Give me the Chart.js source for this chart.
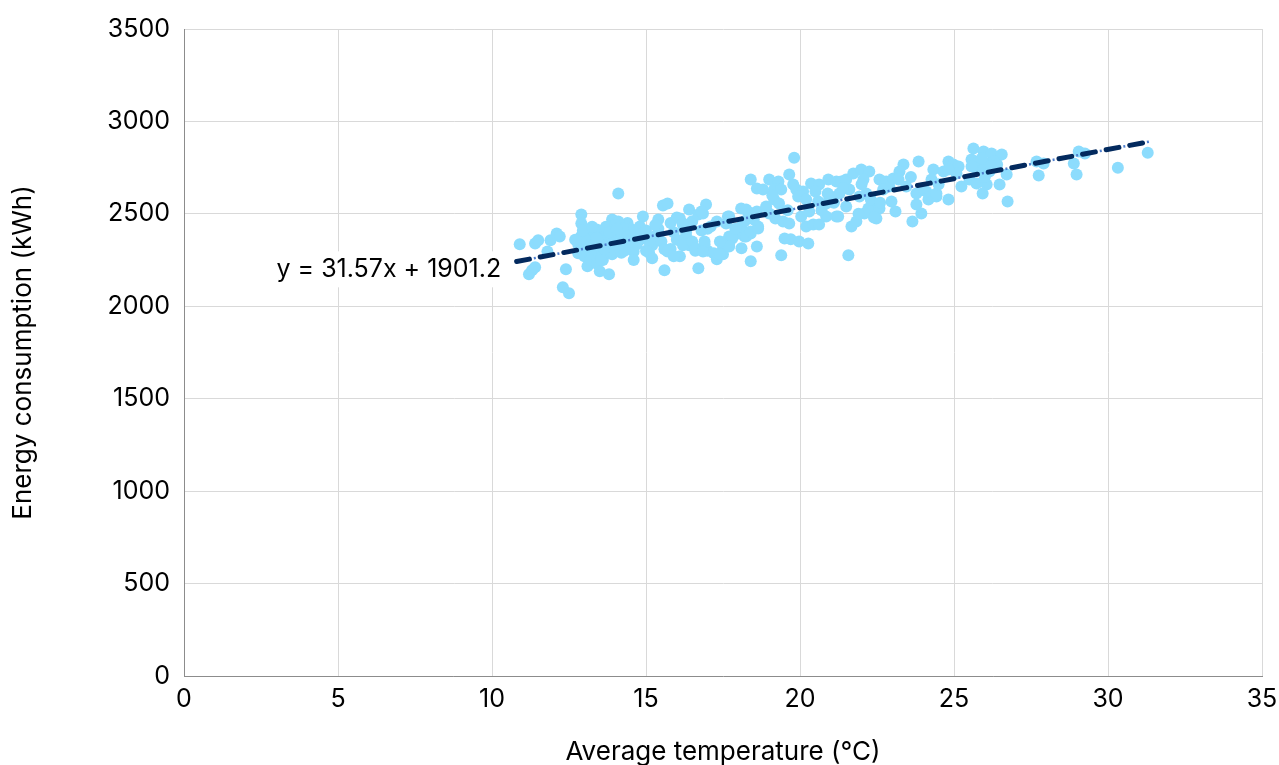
<!DOCTYPE html>
<html>
<head>
<meta charset="utf-8">
<script src="https://cdn.jsdelivr.net/npm/chart.js@4.4.1/dist/chart.umd.min.js"></script>
<style>
  html, body { margin: 0; padding: 0; background: #ffffff; }
  #wrap { width: 1279px; height: 765px; position: relative; }
</style>
</head>
<body>
<div id="wrap"><canvas id="c" width="1279" height="765"></canvas></div>
<script>
// Average temperature (°C) for each day
const temperature = [
  10.9, 11.2, 11.3, 11.4, 11.4, 11.5, 11.9, 11.8, 12.1, 12.2, 12.4, 12.3, 12.5,
  12.9, 12.9, 12.8, 12.8, 13.0, 13.1, 13.2, 13.4, 13.3, 13.5, 13.8, 13.9, 14.0, 14.1, 13.7, 13.9, 14.1,
  13.0, 13.1, 13.2, 13.3, 13.4, 13.5, 13.6, 13.6, 13.7, 13.8, 13.9, 14.0, 14.2, 14.3, 14.4, 14.5, 14.6, 14.7, 14.8,
  13.2, 13.4, 12.9, 13.0, 13.5, 13.7, 14.2, 14.5, 14.9, 14.8,
  14.6, 14.7, 14.1, 14.25, 14.4, 13.1, 13.6, 14.0, 14.3, 12.7, 13.3, 14.6,
  13.8, 14.1, 13.4, 12.95, 13.55, 14.45, 13.25, 14.85, 13.65, 14.05,
  15.2, 15.3, 15.1, 15.4, 15.5, 15.2, 15.55, 15.7, 15.6, 15.8, 15.9, 16.0, 16.1, 16.2, 16.3, 16.4, 16.4, 16.5, 16.6, 16.7, 16.7, 16.85, 16.95, 16.8, 16.9, 17.0,
  15.0, 15.1, 15.4, 15.8, 16.0, 16.2, 16.3, 16.1, 16.2, 15.6, 15.7, 16.5, 16.6, 16.9, 16.85, 15.0, 15.3, 15.9,
  17.6, 17.7, 17.3, 17.5, 17.2, 17.1, 17.3, 16.8,
  17.66, 18.09, 18.3, 18.64, 18.4, 18.2, 18.0, 17.8, 17.7, 17.5, 17.4, 18.4, 18.4, 18.6, 18.8, 19.0, 19.3, 19.65,
  19.16, 19.39, 19.16, 19.32, 17.6, 17.8, 17.7, 18.1, 18.25, 18.4, 18.6, 18.64, 18.1, 17.7, 18.25, 18.6,
  19.2, 19.45, 19.65, 19.0, 19.7, 19.97, 20.27, 19.39, 19.5, 18.9, 18.5, 17.9, 19.1, 18.2, 17.4, 17.0, 19.6,
  19.81, 19.78, 19.88, 20.1, 19.94, 20.36, 20.62, 20.92, 21.18, 20.2, 20.59, 20.85, 21.18, 20.2, 20.43, 20.62, 20.85,
  21.34, 21.5, 21.6, 21.28, 21.73, 21.99, 22.25, 22.06, 21.24, 21.57, 21.67, 21.83,
  22.22, 22.38, 22.58, 22.48, 22.09, 22.58, 22.8, 22.9, 23.03, 22.7,
  20.04, 20.3, 21.5, 21.93, 22.15, 22.3, 21.0, 20.5, 20.7, 21.1, 21.4, 22.0, 22.6, 20.9, 21.9, 22.4,
  23.85, 23.36, 23.23, 23.2, 23.65, 23.94, 23.78, 24.17, 24.43, 24.33, 24.66, 24.82, 23.78, 24.1, 24.43, 24.82,
  24.98, 25.15, 25.08, 24.82, 25.24, 25.5, 25.73, 23.45, 22.97, 23.1, 24.27, 24.5, 23.6, 24.0,
  25.63, 25.96, 26.22, 26.55, 25.57, 25.8, 26.06, 25.73, 25.96, 26.3, 26.4, 26.06, 25.93, 26.48, 26.74, 26.71,
  25.57, 26.15, 25.9, 26.2, 26.0,
  27.68, 27.91, 27.75, 29.05, 29.25, 28.89, 28.98, 30.32, 31.29
];

// Energy consumption (kWh) for each day, same order
const energy = [
  2335, 2173, 2195, 2211, 2340, 2357, 2357, 2297, 2394, 2378, 2200, 2103, 2071,
  2497, 2448, 2335, 2287, 2270, 2216, 2416, 2416, 2367, 2190, 2173, 2470, 2421, 2367, 2314, 2281, 2610,
  2340, 2300, 2360, 2330, 2280, 2400, 2350, 2250, 2390, 2330, 2360, 2300, 2400, 2340, 2450, 2380, 2320, 2400, 2360,
  2250, 2230, 2380, 2310, 2320, 2430, 2290, 2420, 2486, 2432,
  2297, 2335, 2459, 2421, 2378, 2390, 2280, 2440, 2300, 2360, 2410, 2250,
  2400, 2330, 2370, 2410, 2250, 2350, 2430, 2390, 2310, 2420,
  2330, 2380, 2290, 2420, 2350, 2260, 2545, 2556, 2195, 2310, 2400, 2360, 2270, 2440, 2380, 2524, 2330, 2460, 2300, 2497, 2206, 2502, 2551, 2410, 2350, 2300,
  2410, 2350, 2470, 2450, 2480, 2330, 2400, 2475, 2448, 2308, 2297, 2351, 2314, 2335, 2297, 2300, 2440, 2270,
  2351, 2378, 2254, 2281, 2287, 2432, 2459, 2513,
  2486, 2529, 2513, 2432, 2394, 2378, 2394, 2367, 2340, 2314, 2281, 2243, 2686, 2637, 2632, 2686, 2675, 2713,
  2632, 2632, 2578, 2556, 2448, 2378, 2324, 2432, 2378, 2405, 2324, 2421, 2314, 2486, 2524, 2513,
  2475, 2459, 2448, 2502, 2362, 2351, 2340, 2276, 2367, 2540, 2470, 2420, 2600, 2460, 2350, 2420, 2520,
  2804, 2659, 2632, 2621, 2594, 2664, 2659, 2686, 2675, 2578, 2567, 2556, 2486, 2432, 2443, 2443, 2486,
  2675, 2686, 2632, 2610, 2718, 2740, 2729, 2686, 2486, 2276, 2432, 2459,
  2529, 2524, 2529, 2475, 2502, 2686, 2675, 2648, 2691, 2632,
  2486, 2513, 2540, 2594, 2610, 2578, 2594, 2621, 2520, 2560, 2640, 2660, 2560, 2610, 2500, 2480,
  2783, 2767, 2729, 2686, 2459, 2502, 2551, 2578, 2594, 2740, 2729, 2783, 2610, 2621, 2610, 2578,
  2767, 2756, 2718, 2740, 2648, 2686, 2664, 2648, 2567, 2513, 2686, 2660, 2700, 2640,
  2853, 2837, 2826, 2821, 2794, 2783, 2772, 2745, 2740, 2783, 2767, 2659, 2610, 2659, 2567, 2713,
  2756, 2729, 2800, 2760, 2700,
  2783, 2772, 2708, 2837, 2826, 2772, 2713, 2750, 2831
];

// Linear trendline shown on the chart (y = slope * x + intercept)
const trendSlope = 31.57;
const trendIntercept = 1901.2;
const trendRange = [10.8, 31.33];
const trendLabel = 'y = 31.57x + 1901.2';
const trendLabelAt = [10.3, 2200];

const xTicks = [0, 5, 10, 15, 20, 25, 30, 35];
const yTicks = [0, 500, 1000, 1500, 2000, 2500, 3000, 3500];
const xTitle = 'Average temperature (°C)';
const yTitle = 'Energy consumption (kWh)';

const points = temperature.map((t, i) => ({ x: t, y: energy[i] }));
const trendPts = trendRange.map(x => ({ x: x, y: trendSlope * x + trendIntercept }));

const FONT = 'Inter, "Liberation Sans", sans-serif';

const labelPlugin = {
  id: 'trendLabel',
  afterDatasetsDraw(chart) {
    const ctx = chart.ctx;
    const xs = chart.scales.x, ys = chart.scales.y;
    const px = xs.getPixelForValue(trendLabelAt[0]);
    const py = ys.getPixelForValue(trendLabelAt[1]);
    ctx.save();
    ctx.font = '25px ' + FONT;
    const w = ctx.measureText(trendLabel).width;
    ctx.fillStyle = '#ffffff';
    ctx.fillRect(px - w - 4, py - 18, w + 8, 36);
    ctx.fillStyle = '#000000';
    ctx.textAlign = 'right';
    ctx.textBaseline = 'middle';
    ctx.fillText(trendLabel, px, py);
    ctx.restore();
  }
};

new Chart(document.getElementById('c'), {
  type: 'scatter',
  data: {
    datasets: [
      {
        label: 'Trend dots',
        data: trendPts,
        showLine: true,
        borderColor: '#4f7fcf',
        borderWidth: 2.5,
        borderDash: [2, 22],
        borderDashOffset: 6.5,
        pointRadius: 0,
        order: 0
      },
      {
        label: 'Trend',
        data: trendPts,
        showLine: true,
        borderColor: '#032a5e',
        borderWidth: 5,
        borderDash: [13, 11],
        borderCapStyle: 'round',
        pointRadius: 0,
        order: 1
      },
      {
        label: 'Energy',
        data: points,
        backgroundColor: '#8cdcfd',
        borderWidth: 0,
        pointRadius: 6,
        pointHoverRadius: 6,
        order: 2
      }
    ]
  },
  options: {
    responsive: false,
    animation: false,
    devicePixelRatio: 1,
    layout: { padding: { left: 0, right: 17, top: 25, bottom: 0 } },
    plugins: { legend: { display: false }, tooltip: { enabled: false } },
    scales: {
      x: {
        type: 'linear',
        min: xTicks[0], max: xTicks[xTicks.length - 1],
        afterBuildTicks: s => { s.ticks = xTicks.map(v => ({ value: v })); },
        afterFit: s => { s.height = 765 - 676; s.paddingRight = 0; },
        grid: { color: '#d9d9d9', lineWidth: 1, drawTicks: false },
        border: { color: '#8c8c8c', width: 1 },
        ticks: { color: '#000', font: { family: FONT, size: 25 }, padding: 8, callback: v => String(v) },
        title: { display: true, text: xTitle, color: '#000', font: { family: FONT, size: 26 }, padding: { top: 0, bottom: -3 } }
      },
      y: {
        type: 'linear',
        min: yTicks[0], max: yTicks[yTicks.length - 1],
        afterBuildTicks: s => { s.ticks = yTicks.map(v => ({ value: v })); },
        afterFit: s => { s.width = 184; },
        grid: { color: '#d9d9d9', lineWidth: 1, drawTicks: false },
        border: { color: '#8c8c8c', width: 1 },
        ticks: { color: '#000', font: { family: FONT, size: 25 }, padding: 14, callback: v => String(v) },
        title: { display: true, text: yTitle, color: '#000', font: { family: FONT, size: 26 }, padding: { top: 8, bottom: 0 } }
      }
    }
  },
  plugins: [labelPlugin]
});
</script>
</body>
</html>
